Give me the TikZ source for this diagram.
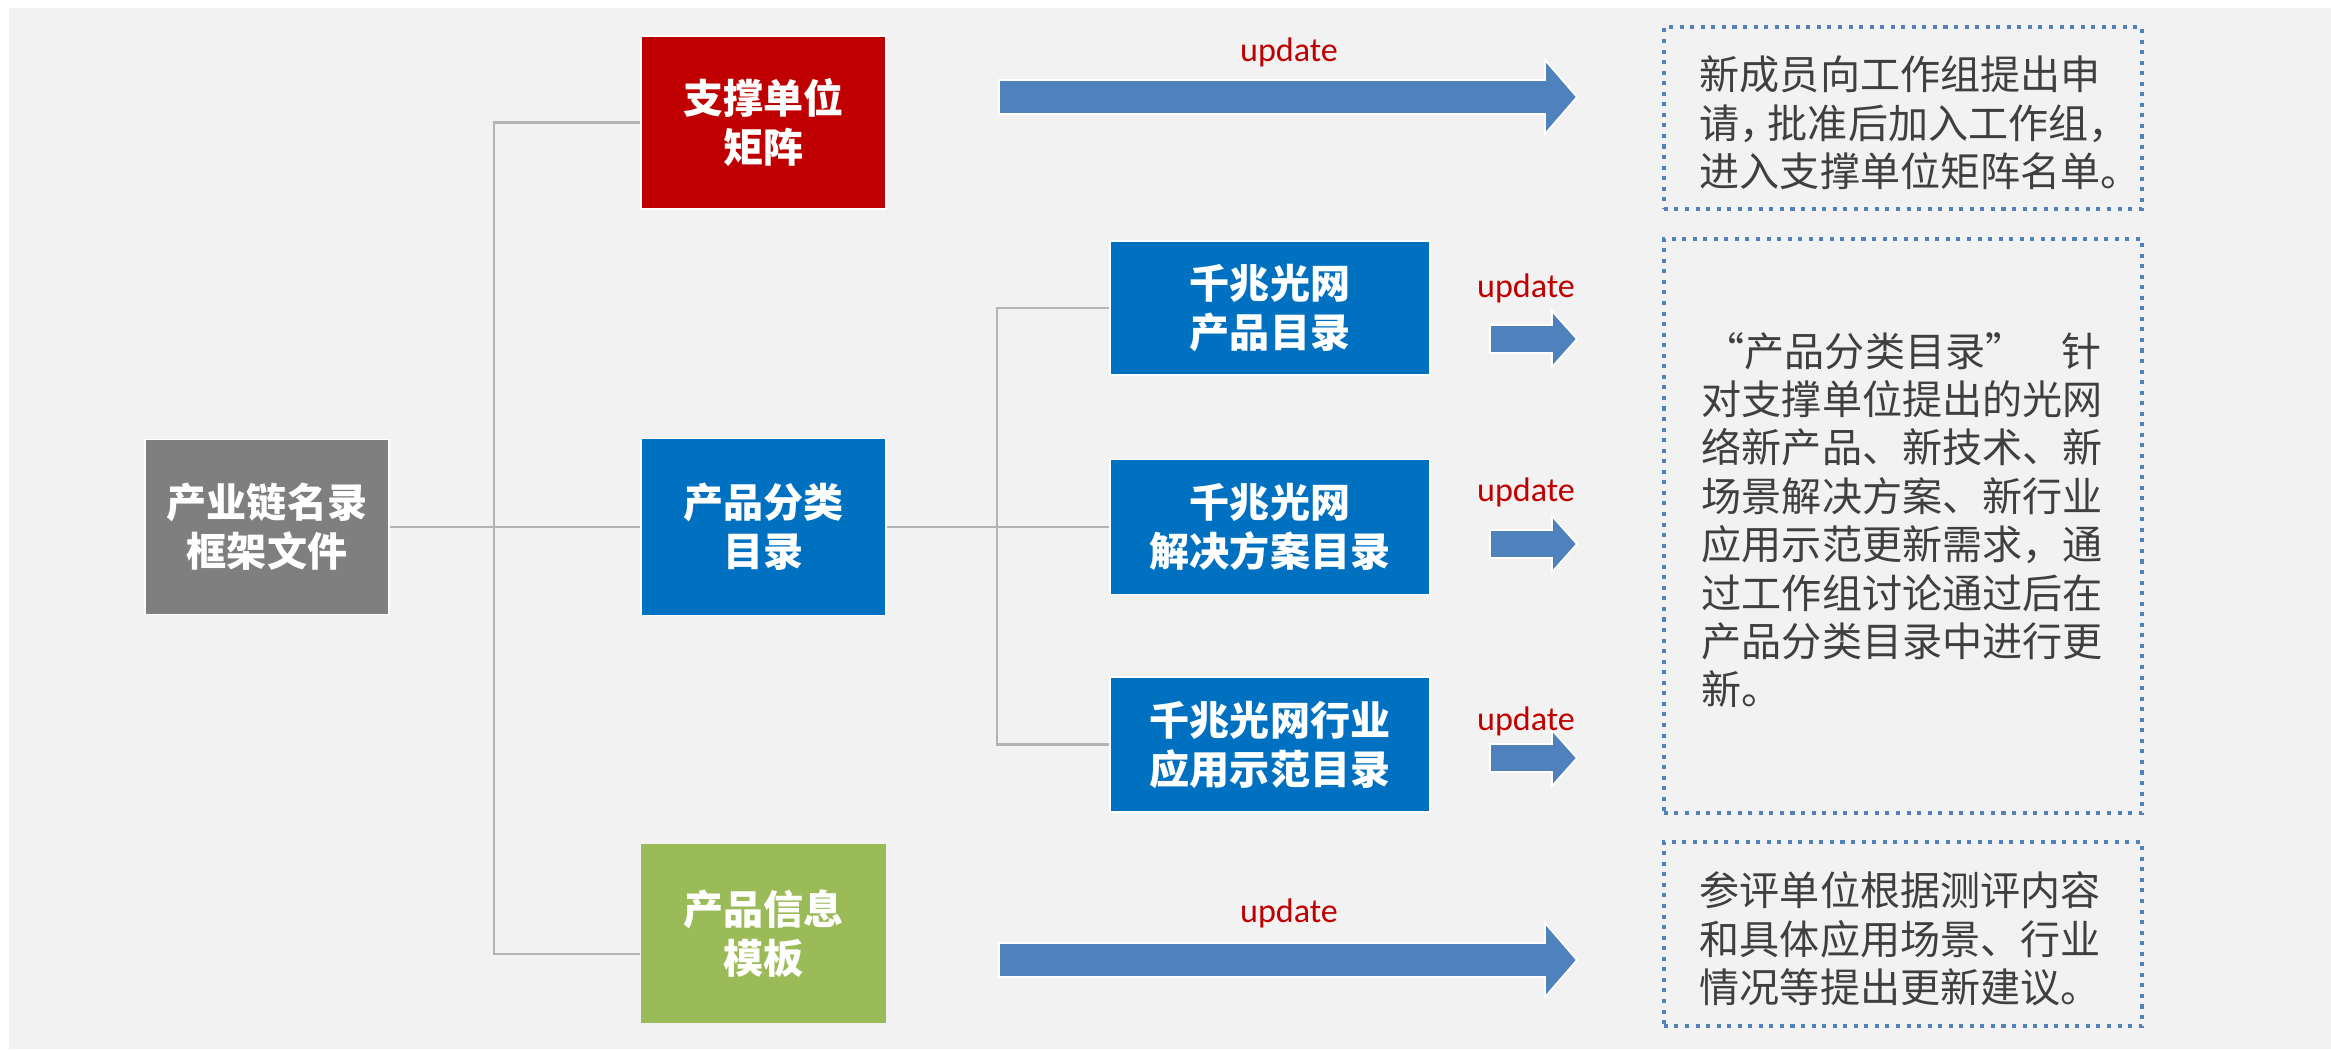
\documentclass[tikz,border=0pt]{standalone}
\usepackage{fontspec}
\newfontfamily\cjk{Noto Sans CJK SC}
\newfontfamily\updfont{Carlito}
\usetikzlibrary{calc}
\definecolor{bggray}{HTML}{F2F2F2}
\definecolor{boxred}{HTML}{C00000}
\definecolor{boxblue}{HTML}{0070C0}
\definecolor{boxgray}{HTML}{7F7F7F}
\definecolor{boxgreen}{HTML}{9BBB59}
\definecolor{arrowblue}{HTML}{4F81BD}
\definecolor{dotblue}{HTML}{4F81BD}
\definecolor{updred}{HTML}{C00000}
\definecolor{textgray}{HTML}{3F3F3F}
\definecolor{linegray}{HTML}{B4B4B4}
\newcommand\blockarr[6]{% start x, head base x, tip x, centre y, shaft half, head half
  \draw[fill=arrowblue, draw=white, line width=0.5pt]
    (#1,#4-#5) -- (#2,#4-#5) -- (#2,#4-#6) -- (#3,#4) -- (#2,#4+#6) -- (#2,#4+#5) -- (#1,#4+#5) -- cycle;}
\begin{document}
\begin{tikzpicture}[x=0.01cm, y=-0.01cm,
  box/.style={rectangle, draw=white, line width=0.5pt, text=white,
    font=\cjk\bfseries\fontsize{11.4pt}{13.9pt}\selectfont, align=center, inner sep=0pt},
  txtbox/.style={font=\cjk\fontsize{11.4pt}{13.75pt}\selectfont, text=textgray,
    align=left, inner sep=0pt, anchor=west},
  dotbox/.style={rectangle, draw=dotblue, line width=1.15pt, dash pattern=on 1.15pt off 1.85pt, inner sep=0pt},
  upd/.style={font=\updfont\fontsize{9.7pt}{11pt}\selectfont, text=updred, inner sep=0pt},
  conn/.style={draw=linegray, line width=0.7pt}
]
\useasboundingbox (0,0) rectangle (2331,1050);
\fill[white] (0,0) rectangle (2331,1050);
\fill[bggray] (9,8) rectangle (2331,1049);

% main boxes
\node[box, fill=boxgray, minimum width=2.44cm, minimum height=1.75cm] (root) at (267,527) {产业链名录\\框架文件};
\node[box, fill=boxred, minimum width=2.45cm, minimum height=1.73cm] (matrix) at (763.5,122.5) {支撑单位\\矩阵};
\node[box, fill=boxblue, minimum width=2.45cm, minimum height=1.77cm] (cat) at (763.5,527) {产品分类\\目录};
\node[box, fill=boxgreen, draw=none, minimum width=2.45cm, minimum height=1.79cm] (tmpl) at (763.5,933.5) {产品信息\\模板};

% sub boxes
\node[box, fill=boxblue, minimum width=3.2cm, minimum height=1.34cm] (sub1) at (1270,308) {千兆光网\\产品目录};
\node[box, fill=boxblue, minimum width=3.2cm, minimum height=1.35cm] (sub2) at (1270,527) {千兆光网\\解决方案目录};
\node[box, fill=boxblue, minimum width=3.2cm, minimum height=1.35cm] (sub3) at (1270,744.5) {千兆光网行业\\应用示范目录};

% connectors
\draw[conn] (matrix.west) -- ++(-146,0) |- ([yshift=-0.205cm]tmpl.west);
\draw[conn] (root.east) -- (cat.west);
\draw[conn] (cat.east) -- (sub2.west);
\draw[conn] (sub1.west) -- ++(-112,0) |- (sub3.west);

% dotted boxes
\node[dotbox, minimum width=4.78cm, minimum height=1.815cm] (note1) at (1903,118) {};
\node[dotbox, minimum width=4.78cm, minimum height=5.74cm] (note2) at (1903,526) {};
\node[dotbox, minimum width=4.78cm, minimum height=1.84cm] (note3) at (1903,934) {};

\node[txtbox] (t1) at (1699,123) {新成员向工作组提出申\\请\makebox[0.7em][l]{，}批准后加入工作组，\\进入支撑单位矩阵名单。};
\node[txtbox] (t2) at (1701,520) {\makebox[4cm][l]{\hspace{0.08cm}\makebox[0.35cm][r]{“}产品分类目录\makebox[0.3cm][l]{”}\hfill 针}\\对支撑单位提出的光网\\络新产品、新技术、新\\场景解决方案、新行业\\应用示范更新需求，通\\过工作组讨论通过后在\\产品分类目录中进行更\\新。};
\node[txtbox] (t3) at (1699,939) {参评单位根据测评内容\\和具体应用场景、行业\\情况等提出更新建议。};

% block arrows
\blockarr{999}{1545}{1577}{97}{17}{37}
\blockarr{999}{1545}{1577}{960}{17}{37}
\blockarr{1490}{1552}{1577}{339}{14}{28}
\blockarr{1490}{1552}{1577}{544}{14}{28}
\blockarr{1490}{1552}{1577}{758}{14}{28}

% update labels
\node[upd] (u1) at (1289,52) {update};
\node[upd] (u2) at (1526,288) {update};
\node[upd] (u3) at (1526,492) {update};
\node[upd] (u4) at (1526,721) {update};
\node[upd] (u5) at (1289,913) {update};
\end{tikzpicture}
\end{document}
